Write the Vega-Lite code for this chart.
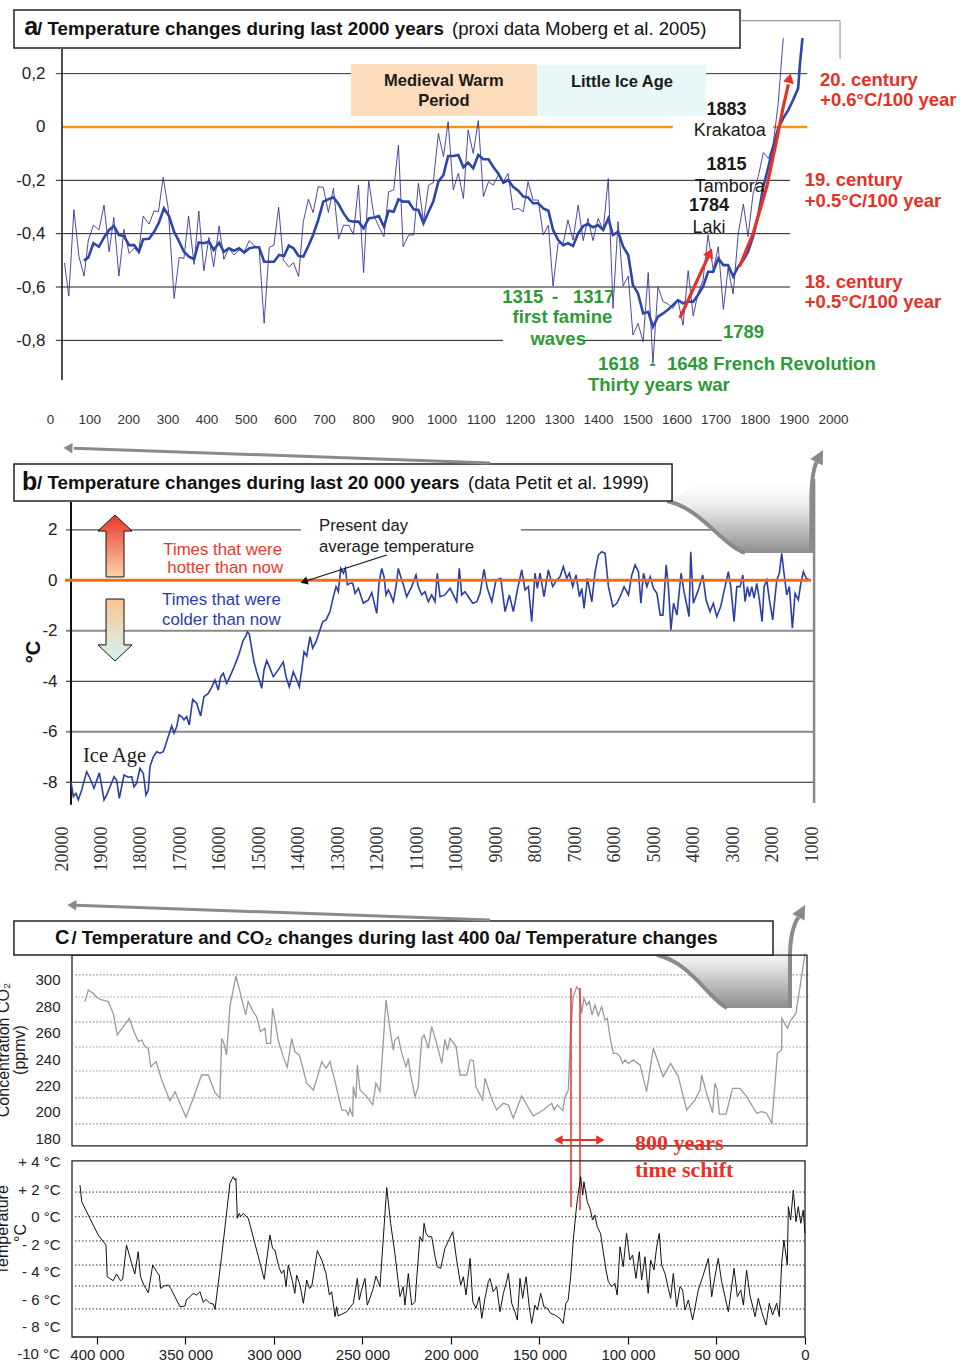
{
  "$schema": "https://vega.github.io/schema/vega-lite/v6.json",
  "width": 973,
  "height": 1367,
  "autosize": {"type": "none"},
  "padding": 0,
  "background": "#ffffff",
  "config": {
    "view": {"stroke": null},
    "font": "Liberation Sans",
    "axis": {"grid": false, "domain": false, "ticks": false, "labelFont": "Liberation Sans", "labelColor": "#222222", "labelOverlap": false, "labelFlush": false}
  },
  "data": {"values": [{}]},
  "datasets": {
    "aThin": [
      {"year":37,"temp":-0.51},{"year":48,"temp":-0.634},{"year":61,"temp":-0.31},{"year":74,"temp":-0.486},{"year":87,"temp":-0.559},{"year":98,"temp":-0.424},{"year":111,"temp":-0.368},{"year":125,"temp":-0.386},{"year":138,"temp":-0.293},{"year":151,"temp":-0.468},{"year":163,"temp":-0.339},{"year":176,"temp":-0.559},{"year":189,"temp":-0.384},{"year":202,"temp":-0.474},{"year":215,"temp":-0.455},{"year":227,"temp":-0.464},{"year":238,"temp":-0.334},{"year":253,"temp":-0.364},{"year":266,"temp":-0.314},{"year":277,"temp":-0.318},{"year":289,"temp":-0.189},{"year":302,"temp":-0.305},{"year":317,"temp":-0.643},{"year":330,"temp":-0.489},{"year":342,"temp":-0.493},{"year":354,"temp":-0.334},{"year":368,"temp":-0.515},{"year":380,"temp":-0.315},{"year":393,"temp":-0.539},{"year":406,"temp":-0.414},{"year":418,"temp":-0.524},{"year":432,"temp":-0.371},{"year":444,"temp":-0.496},{"year":457,"temp":-0.455},{"year":470,"temp":-0.48},{"year":483,"temp":-0.461},{"year":496,"temp":-0.468},{"year":509,"temp":-0.426},{"year":522,"temp":-0.446},{"year":534,"temp":-0.451},{"year":547,"temp":-0.736},{"year":560,"temp":-0.451},{"year":572,"temp":-0.443},{"year":584,"temp":-0.301},{"year":596,"temp":-0.499},{"year":610,"temp":-0.524},{"year":622,"temp":-0.509},{"year":635,"temp":-0.561},{"year":647,"temp":-0.355},{"year":660,"temp":-0.271},{"year":672,"temp":-0.321},{"year":685,"temp":-0.224},{"year":698,"temp":-0.226},{"year":711,"temp":-0.32},{"year":724,"temp":-0.23},{"year":737,"temp":-0.42},{"year":750,"temp":-0.368},{"year":763,"temp":-0.369},{"year":775,"temp":-0.403},{"year":788,"temp":-0.218},{"year":801,"temp":-0.546},{"year":814,"temp":-0.199},{"year":827,"temp":-0.33},{"year":840,"temp":-0.374},{"year":853,"temp":-0.411},{"year":865,"temp":-0.243},{"year":878,"temp":-0.236},{"year":890,"temp":-0.068},{"year":902,"temp":-0.449},{"year":916,"temp":-0.405},{"year":929,"temp":-0.405},{"year":941,"temp":-0.211},{"year":954,"temp":-0.355},{"year":967,"temp":-0.218},{"year":979,"temp":-0.209},{"year":992,"temp":-0.024},{"year":1005,"temp":-0.111},{"year":1017,"temp":0.02},{"year":1030,"temp":-0.236},{"year":1043,"temp":-0.174},{"year":1056,"temp":-0.268},{"year":1068,"temp":-0.011},{"year":1081,"temp":-0.099},{"year":1094,"temp":0.024},{"year":1107,"temp":-0.261},{"year":1120,"temp":-0.205},{"year":1132,"temp":-0.218},{"year":1145,"temp":-0.18},{"year":1158,"temp":-0.205},{"year":1170,"temp":-0.174},{"year":1183,"temp":-0.311},{"year":1196,"temp":-0.305},{"year":1209,"temp":-0.318},{"year":1221,"temp":-0.205},{"year":1234,"temp":-0.274},{"year":1247,"temp":-0.274},{"year":1260,"temp":-0.405},{"year":1273,"temp":-0.368},{"year":1285,"temp":-0.596},{"year":1298,"temp":-0.436},{"year":1311,"temp":-0.436},{"year":1323,"temp":-0.349},{"year":1336,"temp":-0.424},{"year":1349,"temp":-0.293},{"year":1362,"temp":-0.426},{"year":1374,"temp":-0.343},{"year":1387,"temp":-0.426},{"year":1400,"temp":-0.343},{"year":1413,"temp":-0.386},{"year":1426,"temp":-0.193},{"year":1438,"temp":-0.68},{"year":1451,"temp":-0.355},{"year":1464,"temp":-0.596},{"year":1477,"temp":-0.559},{"year":1489,"temp":-0.78},{"year":1502,"temp":-0.736},{"year":1515,"temp":-0.805},{"year":1528,"temp":-0.546},{"year":1540,"temp":-0.886},{"year":1553,"temp":-0.599},{"year":1566,"temp":-0.655},{"year":1579,"temp":-0.664},{"year":1591,"temp":-0.68},{"year":1604,"temp":-0.649},{"year":1617,"temp":-0.743},{"year":1630,"temp":-0.539},{"year":1643,"temp":-0.709},{"year":1655,"temp":-0.624},{"year":1668,"temp":-0.574},{"year":1681,"temp":-0.405},{"year":1694,"temp":-0.536},{"year":1707,"temp":-0.449},{"year":1720,"temp":-0.684},{"year":1732,"temp":-0.53},{"year":1745,"temp":-0.626},{"year":1758,"temp":-0.399},{"year":1771,"temp":-0.289},{"year":1783,"temp":-0.411},{"year":1796,"temp":-0.249},{"year":1809,"temp":-0.186},{"year":1822,"temp":-0.096},{"year":1835,"temp":-0.118},{"year":1847,"temp":-0.068},{"year":1860,"temp":0.089},{"year":1873,"temp":0.333}
    ],
    "aThick": [
      {"year":87,"temp":-0.501},{"year":98,"temp":-0.489},{"year":111,"temp":-0.436},{"year":125,"temp":-0.449},{"year":138,"temp":-0.414},{"year":151,"temp":-0.386},{"year":163,"temp":-0.371},{"year":176,"temp":-0.405},{"year":189,"temp":-0.409},{"year":202,"temp":-0.443},{"year":215,"temp":-0.443},{"year":227,"temp":-0.468},{"year":238,"temp":-0.421},{"year":253,"temp":-0.419},{"year":266,"temp":-0.393},{"year":278,"temp":-0.359},{"year":291,"temp":-0.305},{"year":304,"temp":-0.334},{"year":317,"temp":-0.393},{"year":330,"temp":-0.43},{"year":342,"temp":-0.468},{"year":355,"temp":-0.486},{"year":368,"temp":-0.496},{"year":380,"temp":-0.433},{"year":393,"temp":-0.436},{"year":406,"temp":-0.43},{"year":418,"temp":-0.461},{"year":432,"temp":-0.434},{"year":444,"temp":-0.468},{"year":457,"temp":-0.455},{"year":470,"temp":-0.464},{"year":483,"temp":-0.455},{"year":496,"temp":-0.471},{"year":509,"temp":-0.455},{"year":522,"temp":-0.451},{"year":534,"temp":-0.451},{"year":547,"temp":-0.505},{"year":560,"temp":-0.505},{"year":572,"temp":-0.505},{"year":585,"temp":-0.48},{"year":598,"temp":-0.484},{"year":610,"temp":-0.445},{"year":622,"temp":-0.455},{"year":635,"temp":-0.484},{"year":647,"temp":-0.486},{"year":660,"temp":-0.446},{"year":672,"temp":-0.405},{"year":685,"temp":-0.349},{"year":698,"temp":-0.28},{"year":711,"temp":-0.271},{"year":724,"temp":-0.264},{"year":737,"temp":-0.289},{"year":750,"temp":-0.324},{"year":763,"temp":-0.351},{"year":775,"temp":-0.355},{"year":788,"temp":-0.355},{"year":801,"temp":-0.38},{"year":814,"temp":-0.343},{"year":827,"temp":-0.339},{"year":840,"temp":-0.334},{"year":853,"temp":-0.374},{"year":865,"temp":-0.314},{"year":878,"temp":-0.318},{"year":890,"temp":-0.271},{"year":902,"temp":-0.28},{"year":916,"temp":-0.28},{"year":929,"temp":-0.309},{"year":941,"temp":-0.311},{"year":954,"temp":-0.361},{"year":967,"temp":-0.318},{"year":979,"temp":-0.28},{"year":992,"temp":-0.205},{"year":1005,"temp":-0.18},{"year":1017,"temp":-0.109},{"year":1030,"temp":-0.109},{"year":1043,"temp":-0.105},{"year":1056,"temp":-0.151},{"year":1068,"temp":-0.134},{"year":1081,"temp":-0.155},{"year":1094,"temp":-0.105},{"year":1107,"temp":-0.121},{"year":1120,"temp":-0.121},{"year":1132,"temp":-0.149},{"year":1145,"temp":-0.174},{"year":1158,"temp":-0.209},{"year":1170,"temp":-0.199},{"year":1183,"temp":-0.224},{"year":1196,"temp":-0.239},{"year":1209,"temp":-0.261},{"year":1221,"temp":-0.264},{"year":1234,"temp":-0.286},{"year":1247,"temp":-0.286},{"year":1260,"temp":-0.305},{"year":1273,"temp":-0.314},{"year":1285,"temp":-0.386},{"year":1298,"temp":-0.424},{"year":1311,"temp":-0.443},{"year":1323,"temp":-0.436},{"year":1336,"temp":-0.446},{"year":1349,"temp":-0.399},{"year":1362,"temp":-0.371},{"year":1374,"temp":-0.364},{"year":1387,"temp":-0.376},{"year":1400,"temp":-0.368},{"year":1413,"temp":-0.386},{"year":1426,"temp":-0.343},{"year":1438,"temp":-0.405},{"year":1451,"temp":-0.393},{"year":1464,"temp":-0.449},{"year":1477,"temp":-0.48},{"year":1489,"temp":-0.593},{"year":1502,"temp":-0.624},{"year":1515,"temp":-0.699},{"year":1528,"temp":-0.693},{"year":1540,"temp":-0.749},{"year":1553,"temp":-0.711},{"year":1566,"temp":-0.699},{"year":1579,"temp":-0.684},{"year":1591,"temp":-0.668},{"year":1604,"temp":-0.649},{"year":1617,"temp":-0.661},{"year":1630,"temp":-0.655},{"year":1643,"temp":-0.655},{"year":1655,"temp":-0.63},{"year":1668,"temp":-0.599},{"year":1681,"temp":-0.543},{"year":1694,"temp":-0.543},{"year":1707,"temp":-0.493},{"year":1720,"temp":-0.518},{"year":1732,"temp":-0.518},{"year":1745,"temp":-0.561},{"year":1758,"temp":-0.524},{"year":1771,"temp":-0.499},{"year":1783,"temp":-0.468},{"year":1796,"temp":-0.411},{"year":1809,"temp":-0.33},{"year":1822,"temp":-0.224},{"year":1835,"temp":-0.149},{"year":1847,"temp":-0.074},{"year":1860,"temp":-0.005},{"year":1873,"temp":0.033},{"year":1886,"temp":0.064},{"year":1898,"temp":0.101},{"year":1911,"temp":0.145},{"year":1915,"temp":0.226},{"year":1922,"temp":0.333}
    ],
    "bTemp": [
      {"bp":19772,"temp":-7.98},{"bp":19713,"temp":-8.57},{"bp":19645,"temp":-8.44},{"bp":19587,"temp":-8.7},{"bp":19501,"temp":-8.31},{"bp":19375,"temp":-7.58},{"bp":19291,"temp":-7.84},{"bp":19189,"temp":-8.24},{"bp":19054,"temp":-7.62},{"bp":18935,"temp":-8.7},{"bp":18851,"temp":-8.44},{"bp":18783,"temp":-8.18},{"bp":18682,"temp":-7.78},{"bp":18614,"temp":-7.92},{"bp":18548,"temp":-8.64},{"bp":18429,"temp":-7.71},{"bp":18320,"temp":-7.8},{"bp":18234,"temp":-7.78},{"bp":18176,"temp":-8.18},{"bp":18108,"temp":-8.04},{"bp":18024,"temp":-7.45},{"bp":17940,"temp":-7.65},{"bp":17872,"temp":-8.51},{"bp":17814,"temp":-8.31},{"bp":17771,"temp":-7.38},{"bp":17687,"temp":-6.99},{"bp":17601,"temp":-6.79},{"bp":17517,"temp":-6.85},{"bp":17434,"temp":-6.79},{"bp":17348,"temp":-6.39},{"bp":17221,"temp":-5.77},{"bp":17162,"temp":-6.06},{"bp":17094,"temp":-5.8},{"bp":17036,"temp":-5.34},{"bp":16968,"temp":-5.4},{"bp":16910,"temp":-5.53},{"bp":16842,"temp":-5.4},{"bp":16776,"temp":-5.73},{"bp":16690,"temp":-4.72},{"bp":16589,"temp":-4.87},{"bp":16488,"temp":-5.38},{"bp":16404,"temp":-4.61},{"bp":16295,"temp":-4.48},{"bp":16209,"temp":-4.24},{"bp":16125,"temp":-3.95},{"bp":16041,"temp":-4.35},{"bp":15980,"temp":-3.82},{"bp":15914,"temp":-3.68},{"bp":15828,"temp":-4.08},{"bp":15727,"temp":-3.75},{"bp":15618,"temp":-3.35},{"bp":15509,"temp":-2.89},{"bp":15408,"temp":-2.37},{"bp":15340,"temp":-2.21},{"bp":15306,"temp":-2.04},{"bp":15255,"temp":-2.13},{"bp":15195,"temp":-2.7},{"bp":15137,"temp":-3.22},{"bp":15068,"temp":-3.62},{"bp":15002,"temp":-3.95},{"bp":14941,"temp":-4.28},{"bp":14882,"temp":-3.55},{"bp":14814,"temp":-3.18},{"bp":14748,"temp":-3.42},{"bp":14647,"temp":-3.82},{"bp":14520,"temp":-3.55},{"bp":14394,"temp":-3.23},{"bp":14325,"temp":-3.82},{"bp":14241,"temp":-4.22},{"bp":14140,"temp":-3.62},{"bp":14054,"temp":-3.95},{"bp":13988,"temp":-4.22},{"bp":13927,"temp":-3.55},{"bp":13869,"temp":-2.83},{"bp":13801,"temp":-3.0},{"bp":13717,"temp":-2.23},{"bp":13649,"temp":-2.69},{"bp":13565,"temp":-2.43},{"bp":13481,"temp":-2.04},{"bp":13395,"temp":-1.64},{"bp":13311,"temp":-1.57},{"bp":13210,"temp":-1.24},{"bp":13126,"temp":-0.65},{"bp":13057,"temp":-0.25},{"bp":12999,"temp":-0.45},{"bp":12938,"temp":0.47},{"bp":12872,"temp":0.28},{"bp":12822,"temp":0.47},{"bp":12771,"temp":-0.18},{"bp":12703,"temp":-0.12},{"bp":12635,"temp":-0.12},{"bp":12576,"temp":-0.52},{"bp":12492,"temp":-0.32},{"bp":12366,"temp":-0.91},{"bp":12239,"temp":-0.78},{"bp":12153,"temp":-0.49},{"bp":12027,"temp":-1.31},{"bp":11969,"temp":-0.12},{"bp":11900,"temp":0.47},{"bp":11842,"temp":0.14},{"bp":11792,"temp":-0.58},{"bp":11733,"temp":-0.38},{"bp":11672,"temp":-0.58},{"bp":11606,"temp":-0.85},{"bp":11538,"temp":-0.25},{"bp":11480,"temp":0.47},{"bp":11419,"temp":0.14},{"bp":11353,"temp":-0.18},{"bp":11268,"temp":-0.65},{"bp":11141,"temp":-0.25},{"bp":11032,"temp":0.21},{"bp":10974,"temp":-0.25},{"bp":10888,"temp":-0.58},{"bp":10804,"temp":-0.45},{"bp":10720,"temp":-0.85},{"bp":10634,"temp":-0.58},{"bp":10550,"temp":-0.85},{"bp":10492,"temp":0.28},{"bp":10423,"temp":-0.65},{"bp":10297,"temp":-0.58},{"bp":10170,"temp":-0.32},{"bp":10086,"temp":-0.58},{"bp":10001,"temp":-0.85},{"bp":9935,"temp":0.47},{"bp":9874,"temp":-0.58},{"bp":9790,"temp":-0.45},{"bp":9706,"temp":-0.65},{"bp":9594,"temp":-0.91},{"bp":9493,"temp":-0.85},{"bp":9409,"temp":-0.52},{"bp":9309,"temp":0.43},{"bp":9225,"temp":-0.32},{"bp":9112,"temp":-0.85},{"bp":9004,"temp":0.01},{"bp":8885,"temp":0.08},{"bp":8776,"temp":-1.24},{"bp":8667,"temp":-0.58},{"bp":8566,"temp":-1.24},{"bp":8464,"temp":-0.38},{"bp":8353,"temp":0.41},{"bp":8270,"temp":-0.38},{"bp":8185,"temp":-0.25},{"bp":8101,"temp":-1.64},{"bp":8017,"temp":0.28},{"bp":7958,"temp":-0.32},{"bp":7890,"temp":0.28},{"bp":7789,"temp":-0.65},{"bp":7679,"temp":0.41},{"bp":7569,"temp":-0.25},{"bp":7467,"temp":0.01},{"bp":7383,"temp":0.14},{"bp":7299,"temp":0.54},{"bp":7213,"temp":0.08},{"bp":7147,"temp":0.28},{"bp":7061,"temp":-0.25},{"bp":6977,"temp":0.21},{"bp":6893,"temp":-0.65},{"bp":6832,"temp":-0.32},{"bp":6774,"temp":-1.11},{"bp":6690,"temp":0.08},{"bp":6578,"temp":-0.85},{"bp":6495,"temp":0.34},{"bp":6411,"temp":1.0},{"bp":6325,"temp":1.13},{"bp":6242,"temp":1.07},{"bp":6157,"temp":-0.25},{"bp":6046,"temp":-1.04},{"bp":5945,"temp":-0.91},{"bp":5861,"temp":-0.65},{"bp":5760,"temp":-0.25},{"bp":5650,"temp":-0.58},{"bp":5564,"temp":0.21},{"bp":5481,"temp":0.61},{"bp":5396,"temp":0.34},{"bp":5335,"temp":-0.91},{"bp":5269,"temp":0.28},{"bp":5183,"temp":-0.25},{"bp":5099,"temp":0.14},{"bp":5015,"temp":-0.32},{"bp":4929,"temp":-0.52},{"bp":4845,"temp":-1.38},{"bp":4777,"temp":-1.38},{"bp":4693,"temp":0.61},{"bp":4635,"temp":-0.32},{"bp":4574,"temp":-1.97},{"bp":4507,"temp":-0.91},{"bp":4421,"temp":-1.38},{"bp":4317,"temp":0.28},{"bp":4242,"temp":-0.45},{"bp":4173,"temp":-0.98},{"bp":4115,"temp":-1.44},{"bp":4072,"temp":1.13},{"bp":4006,"temp":-0.91},{"bp":3879,"temp":-0.38},{"bp":3768,"temp":0.21},{"bp":3684,"temp":-0.78},{"bp":3583,"temp":-1.24},{"bp":3499,"temp":-0.91},{"bp":3413,"temp":-1.44},{"bp":3312,"temp":-1.04},{"bp":3203,"temp":-0.25},{"bp":3118,"temp":0.34},{"bp":3058,"temp":-0.25},{"bp":2974,"temp":-1.64},{"bp":2905,"temp":-0.25},{"bp":2821,"temp":-0.25},{"bp":2752,"temp":0.21},{"bp":2694,"temp":-0.85},{"bp":2636,"temp":-0.25},{"bp":2585,"temp":-0.65},{"bp":2526,"temp":-0.25},{"bp":2467,"temp":-0.71},{"bp":2399,"temp":-0.12},{"bp":2332,"temp":-0.78},{"bp":2264,"temp":-1.64},{"bp":2214,"temp":-0.25},{"bp":2146,"temp":0.01},{"bp":2079,"temp":-0.78},{"bp":1995,"temp":-1.57},{"bp":1893,"temp":0.01},{"bp":1827,"temp":0.28},{"bp":1767,"temp":1.07},{"bp":1709,"temp":0.28},{"bp":1640,"temp":-0.58},{"bp":1573,"temp":-0.25},{"bp":1497,"temp":-1.9},{"bp":1429,"temp":-0.52},{"bp":1345,"temp":-0.78},{"bp":1284,"temp":-0.12},{"bp":1218,"temp":0.34},{"bp":1150,"temp":0.08},{"bp":1049,"temp":0.01}
    ],
    "cCO2": [
      {"age":406800,"co2":283.6},{"age":404900,"co2":292.4},{"age":402100,"co2":289.9},{"age":400200,"co2":286.9},{"age":398300,"co2":285.3},{"age":393600,"co2":283.6},{"age":390800,"co2":274.7},{"age":388500,"co2":258.3},{"age":385100,"co2":264.6},{"age":381700,"co2":270.9},{"age":379500,"co2":262.1},{"age":376600,"co2":253.3},{"age":374700,"co2":254.5},{"age":372900,"co2":249.5},{"age":371000,"co2":248.2},{"age":369600,"co2":234.3},{"age":366600,"co2":238.1},{"age":363400,"co2":224.2},{"age":358800,"co2":208.5},{"age":355900,"co2":215.4},{"age":349700,"co2":195.9},{"age":345600,"co2":210.3},{"age":340900,"co2":228.0},{"age":337100,"co2":228.0},{"age":333300,"co2":214.6},{"age":330500,"co2":210.3},{"age":329600,"co2":255.8},{"age":328300,"co2":252.0},{"age":326800,"co2":243.2},{"age":324900,"co2":279.8},{"age":321500,"co2":303.0},{"age":319200,"co2":291.2},{"age":316000,"co2":273.5},{"age":314600,"co2":283.6},{"age":311400,"co2":275.3},{"age":309800,"co2":272.2},{"age":307600,"co2":260.8},{"age":305100,"co2":263.4},{"age":304200,"co2":252.0},{"age":301900,"co2":252.0},{"age":300800,"co2":278.5},{"age":299500,"co2":269.7},{"age":297600,"co2":254.5},{"age":294800,"co2":241.9},{"age":292500,"co2":233.8},{"age":290000,"co2":255.8},{"age":288200,"co2":245.6},{"age":285700,"co2":243.2},{"age":283400,"co2":231.8},{"age":281500,"co2":221.7},{"age":277800,"co2":216.6},{"age":276200,"co2":223.0},{"age":273000,"co2":238.1},{"age":270600,"co2":233.0},{"age":268300,"co2":238.1},{"age":265500,"co2":223.0},{"age":261700,"co2":201.5},{"age":259300,"co2":201.0},{"age":258000,"co2":197.7},{"age":257100,"co2":202.7},{"age":255500,"co2":196.4},{"age":255200,"co2":219.1},{"age":253700,"co2":210.3},{"age":252900,"co2":235.6},{"age":251400,"co2":216.6},{"age":247600,"co2":211.6},{"age":244200,"co2":205.3},{"age":242400,"co2":221.7},{"age":240100,"co2":215.4},{"age":236700,"co2":284.8},{"age":234100,"co2":259.6},{"age":232600,"co2":246.9},{"age":231700,"co2":254.5},{"age":229800,"co2":257.0},{"age":227800,"co2":244.4},{"age":225400,"co2":234.3},{"age":224100,"co2":240.6},{"age":222800,"co2":228.0},{"age":220300,"co2":211.6},{"age":218500,"co2":219.1},{"age":216500,"co2":255.8},{"age":215200,"co2":258.3},{"age":212800,"co2":248.2},{"age":210900,"co2":264.6},{"age":208100,"co2":252.0},{"age":205200,"co2":236.8},{"age":203400,"co2":255.0},{"age":202000,"co2":246.9},{"age":200500,"co2":255.8},{"age":197100,"co2":249.5},{"age":194900,"co2":228.0},{"age":191100,"co2":228.0},{"age":189200,"co2":239.4},{"age":187400,"co2":238.9},{"age":185900,"co2":219.1},{"age":182100,"co2":209.0},{"age":180800,"co2":225.5},{"age":178000,"co2":214.0},{"age":176000,"co2":206.5},{"age":174200,"co2":201.5},{"age":170400,"co2":206.5},{"age":167600,"co2":205.3},{"age":164800,"co2":195.2},{"age":160100,"co2":212.1},{"age":153500,"co2":196.9},{"age":147900,"co2":201.5},{"age":143100,"co2":206.5},{"age":141800,"co2":201.5},{"age":139900,"co2":205.3},{"age":136900,"co2":201.0},{"age":135600,"co2":211.6},{"age":133700,"co2":216.6},{"age":132400,"co2":262.1},{"age":130900,"co2":287.4},{"age":129000,"co2":294.9},{"age":127500,"co2":292.4},{"age":126200,"co2":274.7},{"age":124900,"co2":286.1},{"age":123400,"co2":281.0},{"age":121900,"co2":283.6},{"age":120300,"co2":273.5},{"age":118700,"co2":281.0},{"age":116800,"co2":272.7},{"age":114900,"co2":279.8},{"age":113000,"co2":269.7},{"age":111700,"co2":270.9},{"age":110200,"co2":257.0},{"age":108300,"co2":244.4},{"age":106400,"co2":244.4},{"age":104500,"co2":241.9},{"age":103000,"co2":236.8},{"age":101700,"co2":239.4},{"age":99800,"co2":236.8},{"age":97000,"co2":239.4},{"age":93200,"co2":235.6},{"age":89500,"co2":215.4},{"age":85700,"co2":248.2},{"age":80100,"co2":226.8},{"age":75900,"co2":236.8},{"age":71600,"co2":226.8},{"age":66900,"co2":201.5},{"age":62200,"co2":209.0},{"age":59300,"co2":216.6},{"age":58400,"co2":228.0},{"age":55600,"co2":214.1},{"age":52200,"co2":199.4},{"age":50900,"co2":221.7},{"age":49600,"co2":217.1},{"age":48400,"co2":198.4},{"age":44600,"co2":198.4},{"age":40900,"co2":217.9},{"age":36700,"co2":217.9},{"age":33000,"co2":211.6},{"age":27300,"co2":199.0},{"age":24500,"co2":200.2},{"age":21700,"co2":199.0},{"age":18800,"co2":191.4},{"age":17000,"co2":220.4},{"age":15600,"co2":244.4},{"age":13200,"co2":246.9},{"age":13100,"co2":270.9},{"age":9900,"co2":263.4},{"age":8500,"co2":268.4},{"age":5100,"co2":274.7},{"age":2800,"co2":294.9},{"age":0,"co2":320.0}
    ],
    "cTemp": [
      {"age":409600,"temp":2.3},{"age":408600,"temp":1.09},{"age":404000,"temp":-0.12},{"age":399300,"temp":-1.33},{"age":394900,"temp":-2.06},{"age":394200,"temp":-4.36},{"age":390800,"temp":-4.65},{"age":388900,"temp":-4.16},{"age":386700,"temp":-4.65},{"age":385500,"temp":-4.55},{"age":383300,"temp":-2.06},{"age":380400,"temp":-3.39},{"age":378600,"temp":-4.16},{"age":376700,"temp":-2.54},{"age":375400,"temp":-4.36},{"age":373500,"temp":-4.96},{"age":371000,"temp":-5.52},{"age":368500,"temp":-3.51},{"age":366300,"temp":-4.0},{"age":364800,"temp":-4.24},{"age":364000,"temp":-5.21},{"age":362100,"temp":-5.04},{"age":359700,"temp":-4.96},{"age":358300,"temp":-5.21},{"age":353100,"temp":-6.54},{"age":350300,"temp":-6.49},{"age":349300,"temp":-6.0},{"age":347500,"temp":-5.81},{"age":345600,"temp":-5.57},{"age":343700,"temp":-5.69},{"age":341800,"temp":-5.45},{"age":339900,"temp":-6.22},{"age":338400,"temp":-6.0},{"age":336200,"temp":-6.29},{"age":334300,"temp":-6.34},{"age":333300,"temp":-6.73},{"age":329600,"temp":-2.91},{"age":327100,"temp":-0.12},{"age":324900,"temp":2.42},{"age":323000,"temp":2.91},{"age":322000,"temp":2.66},{"age":321500,"temp":2.78},{"age":320700,"temp":-0.12},{"age":319600,"temp":0.24},{"age":318800,"temp":0.0},{"age":317300,"temp":0.24},{"age":314500,"temp":-0.12},{"age":309800,"temp":-2.42},{"age":305500,"temp":-4.55},{"age":302300,"temp":-1.33},{"age":300800,"temp":-2.3},{"age":299500,"temp":-2.42},{"age":297000,"temp":-3.75},{"age":295700,"temp":-4.12},{"age":294400,"temp":-3.87},{"age":293200,"temp":-5.08},{"age":291900,"temp":-3.51},{"age":289500,"temp":-4.72},{"age":288200,"temp":-5.57},{"age":287200,"temp":-4.24},{"age":285300,"temp":-4.96},{"age":283400,"temp":-6.29},{"age":281500,"temp":-4.6},{"age":280000,"temp":-5.21},{"age":278700,"temp":-5.08},{"age":275500,"temp":-2.47},{"age":273000,"temp":-3.15},{"age":270600,"temp":-4.12},{"age":268700,"temp":-5.69},{"age":267400,"temp":-5.45},{"age":265500,"temp":-7.26},{"age":264600,"temp":-6.54},{"age":263700,"temp":-7.22},{"age":262700,"temp":-7.14},{"age":258900,"temp":-6.9},{"age":255200,"temp":-6.29},{"age":252900,"temp":-4.48},{"age":251800,"temp":-6.05},{"age":250500,"temp":-5.33},{"age":248600,"temp":-4.48},{"age":247300,"temp":-6.42},{"age":245800,"temp":-5.93},{"age":243900,"temp":-5.21},{"age":242400,"temp":-4.31},{"age":240100,"temp":-5.08},{"age":236300,"temp":2.11},{"age":234100,"temp":-0.48},{"age":231700,"temp":-2.66},{"age":228800,"temp":-5.81},{"age":227000,"temp":-5.08},{"age":226000,"temp":-6.42},{"age":224100,"temp":-4.12},{"age":222200,"temp":-6.42},{"age":220300,"temp":-6.17},{"age":219000,"temp":-3.87},{"age":217500,"temp":-1.45},{"age":216000,"temp":-1.82},{"age":215200,"temp":-0.48},{"age":214100,"temp":-1.21},{"age":212800,"temp":-1.45},{"age":210900,"temp":-1.45},{"age":209000,"temp":-2.91},{"age":207700,"temp":-3.63},{"age":205800,"temp":-3.75},{"age":203400,"temp":-2.3},{"age":199000,"temp":-1.09},{"age":196800,"temp":-3.15},{"age":194500,"temp":-4.96},{"age":193000,"temp":-4.36},{"age":191500,"temp":-5.69},{"age":189200,"temp":-3.03},{"age":187700,"temp":-6.17},{"age":185900,"temp":-6.66},{"age":184000,"temp":-5.81},{"age":182600,"temp":-7.38},{"age":180800,"temp":-5.93},{"age":178900,"temp":-4.72},{"age":178000,"temp":-4.48},{"age":176100,"temp":-5.45},{"age":174200,"temp":-5.08},{"age":172300,"temp":-6.9},{"age":170400,"temp":-5.57},{"age":168600,"temp":-4.72},{"age":167600,"temp":-4.12},{"age":165700,"temp":-6.29},{"age":163900,"temp":-6.9},{"age":162500,"temp":-7.51},{"age":161000,"temp":-4.48},{"age":159500,"temp":-5.93},{"age":157600,"temp":-4.36},{"age":155800,"temp":-6.54},{"age":154400,"temp":-7.75},{"age":152600,"temp":-6.42},{"age":151200,"temp":-6.78},{"age":149300,"temp":-5.57},{"age":147500,"temp":-6.54},{"age":145600,"temp":-6.66},{"age":143700,"temp":-7.02},{"age":141300,"temp":-7.14},{"age":138500,"temp":-7.38},{"age":136600,"temp":-7.75},{"age":135100,"temp":-6.29},{"age":133800,"temp":-6.05},{"age":132400,"temp":-4.36},{"age":130900,"temp":-1.69},{"age":129000,"temp":0.85},{"age":128100,"temp":1.69},{"age":126700,"temp":2.91},{"age":125600,"temp":1.57},{"age":124900,"temp":2.54},{"age":123000,"temp":1.09},{"age":121500,"temp":0.61},{"age":120000,"temp":-0.24},{"age":118700,"temp":0.12},{"age":117400,"temp":-0.73},{"age":115500,"temp":-1.21},{"age":114000,"temp":-2.54},{"age":112400,"temp":-3.87},{"age":111100,"temp":-4.72},{"age":109200,"temp":-5.08},{"age":107400,"temp":-4.84},{"age":106100,"temp":-5.69},{"age":104500,"temp":-2.18},{"age":102700,"temp":-3.63},{"age":100800,"temp":-1.21},{"age":98900,"temp":-3.15},{"age":97400,"temp":-2.78},{"age":95500,"temp":-4.48},{"age":93600,"temp":-2.54},{"age":92300,"temp":-4.6},{"age":90400,"temp":-2.91},{"age":88600,"temp":-5.57},{"age":87200,"temp":-3.15},{"age":85300,"temp":-3.87},{"age":83800,"temp":-2.18},{"age":82300,"temp":-1.21},{"age":81000,"temp":-3.51},{"age":79100,"temp":-4.12},{"age":77200,"temp":-5.21},{"age":75900,"temp":-5.93},{"age":74400,"temp":-4.12},{"age":72500,"temp":-6.54},{"age":70600,"temp":-5.08},{"age":69100,"temp":-5.33},{"age":67800,"temp":-6.78},{"age":65900,"temp":-6.05},{"age":63500,"temp":-7.51},{"age":60300,"temp":-5.33},{"age":57500,"temp":-4.24},{"age":54600,"temp":-3.03},{"age":52700,"temp":-5.81},{"age":50900,"temp":-4.36},{"age":49000,"temp":-3.03},{"age":47100,"temp":-4.72},{"age":43300,"temp":-6.9},{"age":40100,"temp":-3.75},{"age":38200,"temp":-5.81},{"age":36300,"temp":-5.33},{"age":34800,"temp":-6.42},{"age":33000,"temp":-3.87},{"age":31100,"temp":-5.69},{"age":28200,"temp":-7.26},{"age":26400,"temp":-5.93},{"age":24500,"temp":-6.9},{"age":22000,"temp":-7.87},{"age":20200,"temp":-6.29},{"age":18300,"temp":-7.14},{"age":16000,"temp":-6.29},{"age":14500,"temp":-7.26},{"age":13200,"temp":-3.39},{"age":11900,"temp":-1.69},{"age":10000,"temp":-3.51},{"age":9400,"temp":0.73},{"age":8100,"temp":-0.24},{"age":6600,"temp":1.94},{"age":5100,"temp":-0.36},{"age":3800,"temp":0.73},{"age":2400,"temp":-0.48},{"age":1000,"temp":0.48},{"age":0,"temp":-1.21}
    ]
  },
  "resolve": {
    "scale": {"x": "independent", "y": "independent"},
    "axis": {"x": "independent", "y": "independent"}
  },
  "layer": [
    {
      "layer": [
        {
          "data": {"values": [{"temp": -0.2}, {"temp": -0.4}, {"temp": -0.6}]},
          "mark": {"type": "rule", "stroke": "#1a1a1a", "strokeWidth": 1},
          "encoding": {"y": {"field": "temp", "type": "quantitative"}, "x": {"datum": 15}, "x2": {"datum": 1890}}
        },
        {
          "mark": {"type": "rule", "stroke": "#333333", "strokeWidth": 1},
          "encoding": {"y": {"datum": 0.2}, "x": {"datum": 15}, "x2": {"datum": 1934}}
        },
        {
          "mark": {"type": "rule", "stroke": "#1a1a1a", "strokeWidth": 1},
          "encoding": {"y": {"datum": -0.8}, "x": {"datum": 15}, "x2": {"datum": 1157}}
        },
        {
          "mark": {"type": "rule", "stroke": "#1a1a1a", "strokeWidth": 1},
          "encoding": {"y": {"datum": -0.8}, "x": {"datum": 1352}, "x2": {"datum": 1716}}
        },
        {
          "mark": {"type": "rect", "fill": "#fcdcba"},
          "encoding": {"x": {"datum": 769}, "x2": {"datum": 1244}, "y": {"datum": 0.041}, "y2": {"datum": 0.236}}
        },
        {
          "mark": {"type": "rect", "fill": "#e8f7f7"},
          "encoding": {"x": {"datum": 1244}, "x2": {"datum": 1676}, "y": {"datum": 0.041}, "y2": {"datum": 0.232}}
        },
        {
          "data": {"values": [{"year": 1006, "temp": 0.172, "label": "Medieval Warm"}, {"year": 1006, "temp": 0.097, "label": "Period"}, {"year": 1461, "temp": 0.169, "label": "Little Ice Age"}]},
          "mark": {"type": "text", "fontWeight": "bold", "fontSize": 16.5, "color": "#1a1a1a", "align": "center", "baseline": "middle"},
          "encoding": {"x": {"field": "year", "type": "quantitative"}, "y": {"field": "temp", "type": "quantitative"}, "text": {"field": "label"}}
        },
        {
          "mark": {"type": "rule", "stroke": "#f7941d", "strokeWidth": 2.5},
          "encoding": {"y": {"datum": 0}, "x": {"datum": 31}, "x2": {"datum": 1591}}
        },
        {
          "mark": {"type": "rule", "stroke": "#f7941d", "strokeWidth": 2.5},
          "encoding": {"y": {"datum": 0}, "x": {"datum": 1847}, "x2": {"datum": 1934}}
        },
        {
          "mark": {"type": "rule", "stroke": "#111111", "strokeWidth": 1.5},
          "encoding": {"x": {"datum": 30.6}, "y": {"datum": -0.949}, "y2": {"datum": 0.2925}}
        },
        {
          "data": {"name": "aThin"},
          "mark": {"type": "line", "stroke": "#3b3398", "strokeWidth": 0.9},
          "encoding": {
            "x": {"field": "year", "type": "quantitative",
              "scale": {"domain": [0, 2000], "range": [50, 833], "nice": false, "zero": false},
              "axis": {"orient": "bottom", "offset": -957, "values": [0,100,200,300,400,500,600,700,800,900,1000,1100,1200,1300,1400,1500,1600,1700,1800,1900,2000], "format": "d", "labelFontSize": 13.5, "labelPadding": 2, "title": null, "labelColor": "#333333"}},
            "y": {"field": "temp", "type": "quantitative",
              "scale": {"domain": [-1, 0.4], "range": [393.7, 20.3], "nice": false, "zero": false},
              "axis": {"orient": "left", "offset": -49, "values": [0.2, 0, -0.2, -0.4, -0.6, -0.8], "labelFontSize": 17, "labelPadding": 4, "title": null, "labelExpr": "datum.value == 0 ? '0' : (datum.value < 0 ? '-' : '') + replace(format(abs(datum.value), '.1f'), '.', ',')"}}
          }
        },
        {
          "data": {"name": "aThick"},
          "mark": {"type": "line", "stroke": "#2e46a9", "strokeWidth": 2.6},
          "encoding": {"x": {"field": "year", "type": "quantitative"}, "y": {"field": "temp", "type": "quantitative"}}
        },
        {
          "data": {"values": [{"year": 1728, "temp": 0.063, "label": "1883"}, {"year": 1728, "temp": -0.144, "label": "1815"}, {"year": 1683, "temp": -0.296, "label": "1784"}]},
          "mark": {"type": "text", "fontWeight": "bold", "fontSize": 18, "color": "#1a1a1a", "align": "center", "baseline": "middle"},
          "encoding": {"x": {"field": "year", "type": "quantitative"}, "y": {"field": "temp", "type": "quantitative"}, "text": {"field": "label"}}
        },
        {
          "data": {"values": [{"year": 1736, "temp": -0.015, "label": "Krakatoa"}, {"year": 1736, "temp": -0.225, "label": "Tambora"}, {"year": 1683, "temp": -0.379, "label": "Laki"}]},
          "mark": {"type": "text", "fontSize": 18, "color": "#1a1a1a", "align": "center", "baseline": "middle"},
          "encoding": {"x": {"field": "year", "type": "quantitative"}, "y": {"field": "temp", "type": "quantitative"}, "text": {"field": "label"}}
        },
        {
          "data": {"values": [{"year": 1967, "temp": 0.176, "label": "20. century"}, {"year": 1967, "temp": 0.101, "label": "+0.6°C/100 year"}, {"year": 1928, "temp": -0.2, "label": "19. century"}, {"year": 1928, "temp": -0.279, "label": "+0.5°C/100 year"}, {"year": 1928, "temp": -0.581, "label": "18. century"}, {"year": 1928, "temp": -0.656, "label": "+0.5°C/100 year"}]},
          "mark": {"type": "text", "fontWeight": "bold", "fontSize": 18.5, "color": "#e63127", "align": "left", "baseline": "middle"},
          "encoding": {"x": {"field": "year", "type": "quantitative"}, "y": {"field": "temp", "type": "quantitative"}, "text": {"field": "label"}}
        },
        {
          "data": {"values": [{"year": 1155, "temp": -0.636, "label": "1315"}, {"year": 1336, "temp": -0.636, "label": "1317"}, {"year": 1719, "temp": -0.768, "label": "1789"}, {"year": 1400, "temp": -0.89, "label": "1618"}, {"year": 1576, "temp": -0.89, "label": "1648 French Revolution"}, {"year": 1374, "temp": -0.967, "label": "Thirty years war"}]},
          "mark": {"type": "text", "fontWeight": "bold", "fontSize": 18.5, "color": "#2e9a36", "align": "left", "baseline": "middle"},
          "encoding": {"x": {"field": "year", "type": "quantitative"}, "y": {"field": "temp", "type": "quantitative"}, "text": {"field": "label"}}
        },
        {
          "data": {"values": [{"year": 1290, "temp": -0.636, "label": "-"}, {"year": 1309, "temp": -0.711, "label": "first famine"}, {"year": 1298, "temp": -0.795, "label": "waves"}, {"year": 1539, "temp": -0.89, "label": "-"}]},
          "mark": {"type": "text", "fontWeight": "bold", "fontSize": 18.5, "color": "#2e9a36", "align": "center", "baseline": "middle"},
          "encoding": {"x": {"field": "year", "type": "quantitative"}, "y": {"field": "temp", "type": "quantitative"}, "text": {"field": "label"}}
        },
        {
          "data": {"values": [{"arrow": "a", "year": 1609, "temp": -0.716}, {"arrow": "a", "year": 1682, "temp": -0.483}, {"arrow": "b", "year": 1761, "temp": -0.524}, {"arrow": "b", "year": 1796, "temp": -0.399}, {"arrow": "b", "year": 1831, "temp": -0.224}, {"arrow": "b", "year": 1856, "temp": -0.049}, {"arrow": "b", "year": 1873, "temp": 0.076}, {"arrow": "b", "year": 1886, "temp": 0.16}]},
          "mark": {"type": "line", "stroke": "#e63127", "strokeWidth": 3.2},
          "encoding": {"x": {"field": "year", "type": "quantitative"}, "y": {"field": "temp", "type": "quantitative"}, "detail": {"field": "arrow"}}
        },
        {
          "mark": {"type": "point", "shape": "triangle-up", "size": 120, "filled": true, "opacity": 1, "color": "#e63127", "angle": 25},
          "encoding": {"x": {"datum": 1686}, "y": {"datum": -0.472}}
        },
        {
          "mark": {"type": "point", "shape": "triangle-up", "size": 120, "filled": true, "opacity": 1, "color": "#e63127", "angle": 13},
          "encoding": {"x": {"datum": 1889}, "y": {"datum": 0.183}}
        },
        {
          "mark": {"type": "rect", "fill": "#ffffff", "stroke": "#222222", "strokeWidth": 1.5},
          "encoding": {"x": {"datum": -92}, "x2": {"datum": 1762.5}, "y": {"datum": 0.296}, "y2": {"datum": 0.4387}}
        },
        {
          "mark": {"type": "text", "text": "a", "fontWeight": "bold", "fontSize": 25, "color": "#111111", "align": "left", "baseline": "middle"},
          "encoding": {"x": {"datum": -66}, "y": {"datum": 0.374}}
        },
        {
          "mark": {"type": "text", "text": "/ Temperature changes during last 2000 years", "fontWeight": "bold", "fontSize": 18.8, "color": "#111111", "align": "left", "baseline": "middle"},
          "encoding": {"x": {"datum": -33}, "y": {"datum": 0.369}}
        },
        {
          "mark": {"type": "text", "text": "(proxi data Moberg et al. 2005)", "fontSize": 18.6, "color": "#111111", "align": "left", "baseline": "middle"},
          "encoding": {"x": {"datum": 1027}, "y": {"datum": 0.369}}
        },
        {
          "mark": {"type": "rule", "stroke": "#888888", "strokeWidth": 1},
          "encoding": {"y": {"datum": 0.3986}, "x": {"datum": 1762.5}, "x2": {"datum": 2018}}
        },
        {
          "mark": {"type": "rule", "stroke": "#888888", "strokeWidth": 1},
          "encoding": {"x": {"datum": 2018}, "y": {"datum": 0.255}, "y2": {"datum": 0.3986}}
        }
      ]
    },
    {
      "layer": [
        {
          "mark": {"type": "rule", "stroke": "#555555", "strokeWidth": 1.2},
          "encoding": {"y": {"datum": 2}, "x": {"datum": 19899}, "x2": {"datum": 13945}}
        },
        {
          "mark": {"type": "rule", "stroke": "#555555", "strokeWidth": 1.2},
          "encoding": {"y": {"datum": 2}, "x": {"datum": 8371}, "x2": {"datum": 947}}
        },
        {
          "data": {"values": [{"temp": -2}, {"temp": -6}]},
          "mark": {"type": "rule", "stroke": "#8a8a8a", "strokeWidth": 2},
          "encoding": {"y": {"field": "temp", "type": "quantitative"}, "x": {"datum": 19899}, "x2": {"datum": 947}}
        },
        {
          "data": {"values": [{"temp": -4}, {"temp": -8}]},
          "mark": {"type": "rule", "stroke": "#1a1a1a", "strokeWidth": 1},
          "encoding": {"y": {"field": "temp", "type": "quantitative"}, "x": {"datum": 19899}, "x2": {"datum": 947}}
        },
        {
          "mark": {"type": "rule", "stroke": "#111111", "strokeWidth": 2},
          "encoding": {"x": {"datum": 19772}, "y": {"datum": -8.89}, "y2": {"datum": 3.1}}
        },
        {
          "mark": {"type": "rule", "stroke": "#8a8a8a", "strokeWidth": 2.5},
          "encoding": {"x": {"datum": 947}, "y": {"datum": -8.82}, "y2": {"datum": 4.01}}
        },
        {
          "data": {"name": "bTemp"},
          "mark": {"type": "line", "stroke": "#2b3ea6", "strokeWidth": 1.6},
          "encoding": {
            "x": {"field": "bp", "type": "quantitative",
              "scale": {"domain": [1000, 20000], "range": [812, 62], "nice": false, "zero": false},
              "axis": {"orient": "bottom", "offset": -545, "values": [20000,19000,18000,17000,16000,15000,14000,13000,12000,11000,10000,9000,8000,7000,6000,5000,4000,3000,2000,1000], "format": "d", "labelAngle": -90, "labelFont": "Liberation Serif", "labelFontSize": 18, "labelPadding": 4, "title": null, "labelColor": "#333333"}},
            "y": {"field": "temp", "type": "quantitative",
              "scale": {"domain": [-9, 3.2], "range": [807.5, 499.5], "nice": false, "zero": false},
              "axis": {"orient": "left", "offset": -61, "values": [2, 0, -2, -4, -6, -8], "labelFontSize": 17, "labelPadding": 4, "title": null, "labelExpr": "datum.value < 0 ? '-' + (-datum.value) : '' + datum.value"}}
          }
        },
        {
          "mark": {"type": "rule", "stroke": "#f26b1d", "strokeWidth": 3},
          "encoding": {"y": {"datum": 0}, "x": {"datum": 19924}, "x2": {"datum": 1025}}
        },
        {
          "mark": {"type": "point", "shape": "M0,-1L0.55,-0.48L0.29,-0.48L0.29,1L-0.29,1L-0.29,-0.48L-0.55,-0.48Z", "size": 3844, "filled": true, "opacity": 1,
            "fill": {"gradient": "linear", "x1": 0, "y1": 0, "x2": 0, "y2": 1, "stops": [{"offset": 0, "color": "#e8382a"}, {"offset": 1, "color": "#fcd3a8"}]},
            "stroke": "#111111", "strokeWidth": 1},
          "encoding": {"x": {"datum": 18657}, "y": {"datum": 1.36}}
        },
        {
          "mark": {"type": "point", "shape": "M0,1L0.55,0.48L0.29,0.48L0.29,-1L-0.29,-1L-0.29,0.48L-0.55,0.48Z", "size": 3844, "filled": true, "opacity": 1,
            "fill": {"gradient": "linear", "x1": 0, "y1": 0, "x2": 0, "y2": 1, "stops": [{"offset": 0, "color": "#fbc592"}, {"offset": 1, "color": "#d3f4f3"}]},
            "stroke": "#111111", "strokeWidth": 1},
          "encoding": {"x": {"datum": 18657}, "y": {"datum": -1.97}}
        },
        {
          "data": {"values": [{"bp": 14426, "temp": 1.2, "label": "Times that were"}, {"bp": 14401, "temp": 0.468, "label": "hotter than now"}]},
          "mark": {"type": "text", "fontSize": 16.8, "color": "#e8392b", "align": "right", "baseline": "middle"},
          "encoding": {"x": {"field": "bp", "type": "quantitative"}, "y": {"field": "temp", "type": "quantitative"}, "text": {"field": "label"}}
        },
        {
          "data": {"values": [{"bp": 17466, "temp": -0.78, "label": "Times that were"}, {"bp": 17466, "temp": -1.57, "label": "colder than now"}]},
          "mark": {"type": "text", "fontSize": 16.8, "color": "#2b3ea6", "align": "left", "baseline": "middle"},
          "encoding": {"x": {"field": "bp", "type": "quantitative"}, "y": {"field": "temp", "type": "quantitative"}, "text": {"field": "label"}}
        },
        {
          "data": {"values": [{"bp": 13489, "temp": 2.15, "label": "Present day"}, {"bp": 13489, "temp": 1.32, "label": "average temperature"}]},
          "mark": {"type": "text", "fontSize": 16.7, "color": "#1a1a1a", "align": "left", "baseline": "middle"},
          "encoding": {"x": {"field": "bp", "type": "quantitative"}, "y": {"field": "temp", "type": "quantitative"}, "text": {"field": "label"}}
        },
        {
          "mark": {"type": "text", "text": "Ice Age", "font": "Liberation Serif", "fontSize": 20.5, "color": "#1a1a1a", "align": "left", "baseline": "middle"},
          "encoding": {"x": {"datum": 19468}, "y": {"datum": -6.96}}
        },
        {
          "mark": {"type": "text", "text": "°C", "fontWeight": "bold", "fontSize": 20, "color": "#111111", "align": "center", "baseline": "middle", "angle": 270},
          "encoding": {"x": {"datum": 20722}, "y": {"datum": -2.84}}
        },
        {
          "data": {"values": [{"bp": 11774, "temp": 1.0}, {"bp": 13800, "temp": -0.02}]},
          "mark": {"type": "line", "stroke": "#111111", "strokeWidth": 1.2},
          "encoding": {"x": {"field": "bp", "type": "quantitative"}, "y": {"field": "temp", "type": "quantitative"}}
        },
        {
          "mark": {"type": "point", "shape": "triangle-up", "size": 70, "filled": true, "opacity": 1, "color": "#111111", "angle": 252},
          "encoding": {"x": {"datum": 13869}, "y": {"datum": -0.05}}
        },
        {
          "mark": {"type": "point", "shape": "M-0.918,-0.012C-0.529,0.071,-0.271,0.506,0,0.6L0.78,0.6L0.78,-0.212L-0.529,-0.212Z", "size": 28900, "filled": true, "opacity": 1,
            "fill": {"gradient": "linear", "x1": 0, "y1": 0, "x2": 0, "y2": 1, "stops": [{"offset": 0, "color": "#ffffff"}, {"offset": 0.3, "color": "#eeeeee"}, {"offset": 1, "color": "#8e8e8e"}]},
            "strokeWidth": 0},
          "encoding": {"x": {"datum": 2695}, "y": {"datum": 3.102}}
        },
        {
          "mark": {"type": "point", "shape": "M-0.918,-0.012C-0.529,0.071,-0.271,0.506,0,0.6M0.78,0.6L0.78,0C0.78,-0.25,0.8,-0.38,0.84,-0.467", "size": 28900, "filled": false, "opacity": 1, "stroke": "#8a8a8a", "strokeWidth": 4},
          "encoding": {"x": {"datum": 2695}, "y": {"datum": 3.102}}
        },
        {
          "mark": {"type": "point", "shape": "M0.918,-0.612L0.913,-0.428L0.767,-0.506Z", "size": 28900, "filled": true, "opacity": 1, "fill": "#8a8a8a", "strokeWidth": 0},
          "encoding": {"x": {"datum": 2695}, "y": {"datum": 3.102}}
        },
        {
          "mark": {"type": "rect", "fill": "#ffffff", "stroke": "#222222", "strokeWidth": 1.5},
          "encoding": {"x": {"datum": 21216}, "x2": {"datum": 4545}, "y": {"datum": 3.14}, "y2": {"datum": 4.61}}
        },
        {
          "mark": {"type": "text", "text": "b", "fontWeight": "bold", "fontSize": 25, "color": "#111111", "align": "left", "baseline": "middle"},
          "encoding": {"x": {"datum": 21013}, "y": {"datum": 3.9}}
        },
        {
          "mark": {"type": "text", "text": "/ Temperature changes during last 20 000 years", "fontWeight": "bold", "fontSize": 18.8, "color": "#111111", "align": "left", "baseline": "middle"},
          "encoding": {"x": {"datum": 20633}, "y": {"datum": 3.855}}
        },
        {
          "mark": {"type": "text", "text": "(data Petit et al. 1999)", "fontSize": 18.4, "color": "#111111", "align": "left", "baseline": "middle"},
          "encoding": {"x": {"datum": 9714}, "y": {"datum": 3.855}}
        },
        {
          "data": {"values": [{"bp": 9156, "temp": 4.65}, {"bp": 19700, "temp": 5.23}]},
          "mark": {"type": "line", "stroke": "#8a8a8a", "strokeWidth": 3},
          "encoding": {"x": {"field": "bp", "type": "quantitative"}, "y": {"field": "temp", "type": "quantitative"}}
        },
        {
          "mark": {"type": "point", "shape": "triangle-up", "size": 110, "filled": true, "opacity": 1, "color": "#8a8a8a", "angle": 272},
          "encoding": {"x": {"datum": 19850}, "y": {"datum": 5.24}}
        }
      ]
    },
    {
      "layer": [
        {
          "data": {"values": [{"co2": 303.8}, {"co2": 287.1}, {"co2": 268.2}, {"co2": 249.2}, {"co2": 231.0}, {"co2": 210.6}, {"co2": 190.9}]},
          "mark": {"type": "rule", "stroke": "#a8a8a8", "strokeWidth": 1.2, "strokeDash": [2, 1.5]},
          "encoding": {"y": {"field": "co2", "type": "quantitative"}, "x": {"datum": 412400, "axis": null}, "x2": {"datum": -2800}}
        },
        {
          "mark": {"type": "point", "shape": "M-0.918,-0.024C-0.529,0.059,-0.294,0.506,-0.094,0.6L0.671,0.6L0.671,-0.2L-0.529,-0.2Z", "size": 28900, "filled": true, "opacity": 1,
            "fill": {"gradient": "linear", "x1": 0, "y1": 0, "x2": 0, "y2": 1, "stops": [{"offset": 0, "color": "#ffffff"}, {"offset": 0.3, "color": "#eeeeee"}, {"offset": 1, "color": "#8e8e8e"}]},
            "strokeWidth": 0},
          "encoding": {"x": {"datum": 39550, "axis": null}, "y": {"datum": 317.43}}
        },
        {
          "mark": {"type": "point", "shape": "M-0.918,-0.024C-0.529,0.059,-0.294,0.506,-0.094,0.6M0.647,0.6L0.647,0C0.647,-0.25,0.69,-0.38,0.746,-0.467", "size": 28900, "filled": false, "opacity": 1, "stroke": "#8a8a8a", "strokeWidth": 4},
          "encoding": {"x": {"datum": 39550, "axis": null}, "y": {"datum": 317.43}}
        },
        {
          "mark": {"type": "point", "shape": "M0.824,-0.612L0.819,-0.428L0.673,-0.506Z", "size": 28900, "filled": true, "opacity": 1, "fill": "#8a8a8a", "strokeWidth": 0},
          "encoding": {"x": {"datum": 39550, "axis": null}, "y": {"datum": 317.43}}
        },
        {
          "data": {"name": "cCO2"},
          "mark": {"type": "line", "stroke": "#9a9a9a", "strokeWidth": 1.3},
          "encoding": {
            "x": {"field": "age", "type": "quantitative",
              "scale": {"domain": [0, 414100], "range": [805, 72], "nice": false, "zero": false},
              "axis": null},
            "y": {"field": "co2", "type": "quantitative",
              "scale": {"domain": [170, 325], "range": [1151.5, 947], "nice": false, "zero": false},
              "axis": {"orient": "left", "offset": -62, "values": [300, 280, 260, 240, 220, 200, 180], "labelFontSize": 15, "labelPadding": 2, "title": null}}
          }
        },
        {
          "mark": {"type": "rect", "fillOpacity": 0, "stroke": "#222222", "strokeWidth": 1.3},
          "encoding": {"x": {"datum": 414100, "axis": null}, "x2": {"datum": -1130}, "y": {"datum": 174.2}, "y2": {"datum": 318.9}}
        },
        {
          "data": {"values": [{"age": 132200, "top": 293.9, "bottom": 127.9}, {"age": 127100, "top": 293.9, "bottom": 125.7}]},
          "mark": {"type": "rule", "stroke": "#e63127", "strokeWidth": 1.5},
          "encoding": {"x": {"field": "age", "type": "quantitative", "axis": null}, "y": {"field": "top", "type": "quantitative"}, "y2": {"field": "bottom"}}
        },
        {
          "mark": {"type": "rule", "stroke": "#e63127", "strokeWidth": 2},
          "encoding": {"y": {"datum": 178.7}, "x": {"datum": 139500, "axis": null}, "x2": {"datum": 115400}}
        },
        {
          "mark": {"type": "point", "shape": "triangle-left", "size": 90, "filled": true, "opacity": 1, "color": "#e63127"},
          "encoding": {"x": {"datum": 139300, "axis": null}, "y": {"datum": 178.7}}
        },
        {
          "mark": {"type": "point", "shape": "triangle-right", "size": 90, "filled": true, "opacity": 1, "color": "#e63127"},
          "encoding": {"x": {"datum": 115600, "axis": null}, "y": {"datum": 178.7}}
        },
        {
          "data": {"values": [{"age": 96050, "co2": 176.5, "label": "800 years"}, {"age": 96050, "co2": 156.0, "label": "time schift"}]},
          "mark": {"type": "text", "font": "Liberation Serif", "fontWeight": "bold", "fontSize": 22, "color": "#e63127", "align": "left", "baseline": "middle"},
          "encoding": {"x": {"field": "age", "type": "quantitative", "axis": null}, "y": {"field": "co2", "type": "quantitative"}, "text": {"field": "label"}}
        },
        {
          "mark": {"type": "rect", "fill": "#ffffff", "stroke": "#222222", "strokeWidth": 1.5},
          "encoding": {"x": {"datum": 446900, "axis": null}, "x2": {"datum": 18080}, "y": {"datum": 318.9}, "y2": {"datum": 344.7}}
        },
        {
          "mark": {"type": "text", "text": "C", "fontWeight": "bold", "fontSize": 20, "color": "#111111", "align": "left", "baseline": "middle"},
          "encoding": {"x": {"datum": 423700, "axis": null}, "y": {"datum": 331.8}}
        },
        {
          "mark": {"type": "text", "text": "/ Temperature and CO₂ changes during last 400 0a/ Temperature changes", "fontWeight": "bold", "fontSize": 18.6, "color": "#111111", "align": "left", "baseline": "middle"},
          "encoding": {"x": {"datum": 414400, "axis": null}, "y": {"datum": 331.8}}
        },
        {
          "data": {"values": [{"age": 178000, "co2": 345.5}, {"age": 412000, "co2": 356.6}]},
          "mark": {"type": "line", "stroke": "#8a8a8a", "strokeWidth": 3},
          "encoding": {"x": {"field": "age", "type": "quantitative", "axis": null}, "y": {"field": "co2", "type": "quantitative"}}
        },
        {
          "mark": {"type": "point", "shape": "triangle-up", "size": 110, "filled": true, "opacity": 1, "color": "#8a8a8a", "angle": 272},
          "encoding": {"x": {"datum": 414200, "axis": null}, "y": {"datum": 356.8}}
        },
        {
          "data": {"values": [{"age": 452600, "co2": 246.9, "label": "Concentration CO₂"}, {"age": 443600, "co2": 246.9, "label": "(ppmv)"}]},
          "mark": {"type": "text", "fontSize": 16, "color": "#1a1a1a", "align": "center", "baseline": "middle", "angle": 270},
          "encoding": {"x": {"field": "age", "type": "quantitative", "axis": null}, "y": {"field": "co2", "type": "quantitative"}, "text": {"field": "label"}}
        }
      ]
    },
    {
      "layer": [
        {
          "data": {"values": [{"temp": 1.79}, {"temp": 0}, {"temp": -1.76}, {"temp": -3.51}, {"temp": -5.03}, {"temp": -6.7}]},
          "mark": {"type": "rule", "stroke": "#333333", "strokeWidth": 1, "strokeDash": [1.5, 2]},
          "encoding": {"y": {"field": "temp", "type": "quantitative"}, "x": {"datum": 412400}, "x2": {"datum": 0}}
        },
        {
          "mark": {"type": "rect", "fillOpacity": 0, "stroke": "#222222", "strokeWidth": 1.3},
          "encoding": {"x": {"datum": 414100}, "x2": {"datum": 0}, "y": {"datum": -8.74}, "y2": {"datum": 4.05}}
        },
        {
          "data": {"name": "cTemp"},
          "mark": {"type": "line", "stroke": "#111111", "strokeWidth": 1},
          "encoding": {
            "x": {"field": "age", "type": "quantitative",
              "scale": {"domain": [0, 414100], "range": [805, 72], "nice": false, "zero": false},
              "axis": {"orient": "bottom", "offset": -30, "values": [400000, 350000, 300000, 250000, 200000, 150000, 100000, 50000, 0], "ticks": true, "tickSize": 7, "tickColor": "#111111", "tickWidth": 1.2, "labelFontSize": 15, "labelPadding": 3, "title": null, "labelExpr": "replace(format(datum.value, ','), ',', ' ')"}},
            "y": {"field": "temp", "type": "quantitative",
              "scale": {"domain": [-9, 4.2], "range": [1340.6, 1158.9], "nice": false, "zero": false},
              "axis": {"orient": "left", "offset": -62, "values": [4, 2, 0, -2, -4, -6, -8], "labelFontSize": 15, "labelPadding": 2, "title": null, "labelExpr": "datum.value > 0 ? '+ ' + datum.value + ' °C' : (datum.value < 0 ? '- ' + (-datum.value) + ' °C' : '0 °C')"}}
          }
        },
        {
          "mark": {"type": "text", "text": "-10 °C", "fontSize": 15, "color": "#222222", "align": "right", "baseline": "middle"},
          "encoding": {"x": {"datum": 420900}, "y": {"datum": -10}}
        },
        {
          "data": {"values": [{"age": 453100, "temp": -0.97, "label": "Temperature"}, {"age": 443000, "temp": -1.18, "label": "°C"}]},
          "mark": {"type": "text", "fontSize": 16, "color": "#1a1a1a", "align": "center", "baseline": "middle", "angle": 270},
          "encoding": {"x": {"field": "age", "type": "quantitative"}, "y": {"field": "temp", "type": "quantitative"}, "text": {"field": "label"}}
        }
      ]
    }
  ]
}
